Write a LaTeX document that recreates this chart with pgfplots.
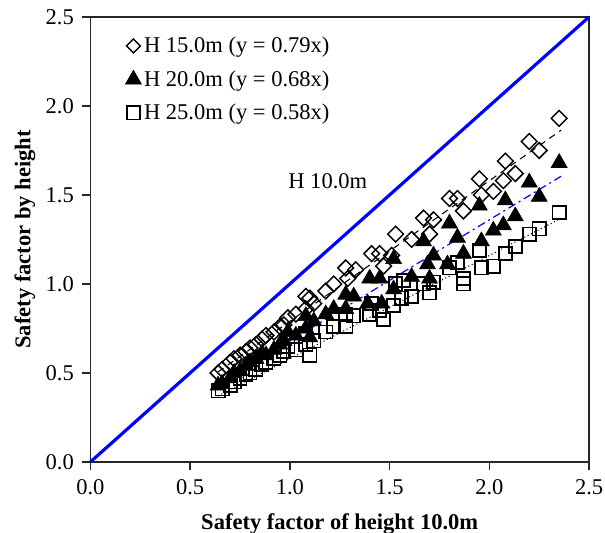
\documentclass[border=0pt]{standalone}
\usepackage{pgfplots}
\pgfplotsset{compat=1.18}
\usepackage{fontspec}
\setmainfont{Liberation Serif}
\begin{document}
\begin{tikzpicture}
\begin{axis}[
  scale only axis,
  width=376.5pt, height=336pt,
  xmin=0, xmax=2.5, ymin=0, ymax=2.5,
  xtick={0,0.5,1,1.5,2,2.5}, ytick={0,0.5,1,1.5,2,2.5},
  tick align=outside, tick pos=left,
  major tick length=6pt,
  axis line style={line width=1.1pt, black!85},
  every tick/.style={line width=1.1pt, black!85},
  /pgf/number format/assume math mode=true,
  /pgf/number format/fixed, /pgf/number format/fixed zerofill, /pgf/number format/precision=1,
  ticklabel style={font=\fontsize{17}{20}\selectfont},
  xticklabel style={yshift=-4pt},
  yticklabel style={xshift=-3pt},
  xlabel={\textbf{Safety factor of height 10.0m}},
  ylabel={\textbf{Safety factor by height}},
  label style={font=\fontsize{17}{20}\selectfont},
  xlabel style={yshift=-7pt},
  ylabel style={yshift=1pt},
  legend style={draw=none, fill=none, at={(0.067,0.964)}, anchor=north west,
    font=\fontsize{17}{20}\selectfont, row sep=8pt, inner sep=1pt,
    /tikz/every even column/.append style={column sep=0pt}},
  legend cell align=left,
  legend image code/.code={\draw[#1] plot coordinates {(0.12cm,0cm)};},
  clip=false,
]
\addplot[blue, line width=2.4pt, forget plot] coordinates {(0,0) (2.5,2.5)};
\node[font=\fontsize{17}{20}\selectfont] at (axis cs:1.19,1.575) {H 10.0m};

\addplot[only marks, mark=square, mark size=4.2pt, mark options={rotate=45, fill=white, draw=black, line width=1.1pt},
  legend image post style={mark size=3.7pt}] coordinates {
(0.64,0.50) (0.66,0.52) (0.70,0.56) (0.72,0.58) (0.75,0.60) (0.78,0.62) (0.80,0.64)
(0.83,0.66) (0.86,0.69) (0.88,0.71) (0.92,0.73) (0.95,0.76) (0.97,0.77) (0.99,0.81)
(1.03,0.83) (1.08,0.86) (1.08,0.93) (1.12,0.89) (1.10,0.92) (1.18,0.96) (1.22,1.00)
(1.29,1.03) (1.28,1.09) (1.33,1.08) (1.41,1.17) (1.45,1.17) (1.47,1.10) (1.51,1.16)
(1.53,1.28) (1.61,1.25) (1.70,1.28) (1.67,1.37) (1.72,1.36) (1.80,1.48) (1.84,1.48)
(1.87,1.41) (1.96,1.50) (1.95,1.59) (2.02,1.52) (2.07,1.58) (2.08,1.69) (2.13,1.62)
(2.20,1.80) (2.25,1.75) (2.35,1.93)};
\addlegendentry{H 15.0m (y = 0.79x)}

\addplot[only marks, mark=triangle*, mark size=7pt, mark options={fill=black, draw=black}] coordinates {
(0.64,0.43) (0.66,0.44) (0.70,0.47) (0.72,0.50) (0.75,0.51) (0.78,0.54) (0.80,0.56)
(0.83,0.58) (0.86,0.61) (0.88,0.60) (0.92,0.63) (0.95,0.66) (0.97,0.68) (0.99,0.73)
(1.03,0.71) (1.08,0.75) (1.08,0.82) (1.10,0.70) (1.12,0.79) (1.18,0.83) (1.22,0.86)
(1.28,0.86) (1.28,0.94) (1.32,0.93) (1.39,0.89) (1.40,1.03) (1.45,1.03) (1.46,0.89)
(1.52,0.97) (1.52,1.14) (1.61,1.04) (1.69,1.11) (1.70,1.03) (1.67,1.24) (1.72,1.16)
(1.79,1.11) (1.80,1.34) (1.84,1.26) (1.87,1.17) (1.96,1.24) (1.95,1.44) (2.02,1.30)
(2.07,1.33) (2.08,1.47) (2.13,1.38) (2.20,1.57) (2.25,1.49) (2.35,1.68)};
\addlegendentry{H 20.0m (y = 0.68x)}

\addplot[only marks, mark=square, mark size=5pt, mark options={fill=white, draw=black, line width=1.3pt}] coordinates {
(0.64,0.40) (0.66,0.41) (0.70,0.43) (0.72,0.45) (0.75,0.47) (0.78,0.49) (0.80,0.50)
(0.83,0.52) (0.86,0.55) (0.88,0.56) (0.92,0.58) (0.95,0.60) (0.97,0.62) (0.99,0.65)
(1.03,0.63) (1.08,0.66) (1.08,0.72) (1.10,0.60) (1.12,0.68) (1.18,0.73) (1.22,0.76)
(1.28,0.76) (1.28,0.83) (1.32,0.82) (1.40,0.83) (1.41,0.89) (1.45,0.85) (1.47,0.80)
(1.52,0.88) (1.53,1.00) (1.56,0.92) (1.57,1.02) (1.61,0.93) (1.67,1.00) (1.70,0.95)
(1.72,1.01) (1.80,1.09) (1.84,1.12) (1.87,1.00) (1.87,1.03) (1.96,1.09) (1.95,1.19)
(2.02,1.10) (2.08,1.17) (2.13,1.21) (2.20,1.28) (2.25,1.31) (2.35,1.40)};
\addlegendentry{H 25.0m (y = 0.58x)}

\addplot[black, line width=0.8pt, dash pattern=on 5pt off 4pt, forget plot] coordinates {(0.64,0.506) (2.36,1.864)};
\addplot[blue, line width=0.9pt, dash pattern=on 6pt off 3pt on 1.5pt off 3pt, forget plot] coordinates {(0.64,0.435) (2.36,1.605)};
\addplot[black, line width=0.8pt, dotted, forget plot] coordinates {(0.64,0.371) (2.36,1.369)};
\end{axis}
\pgfresetboundingbox
\path (-68.25pt,-53.25pt) rectangle (388.5pt,348.75pt);
\end{tikzpicture}
\end{document}
